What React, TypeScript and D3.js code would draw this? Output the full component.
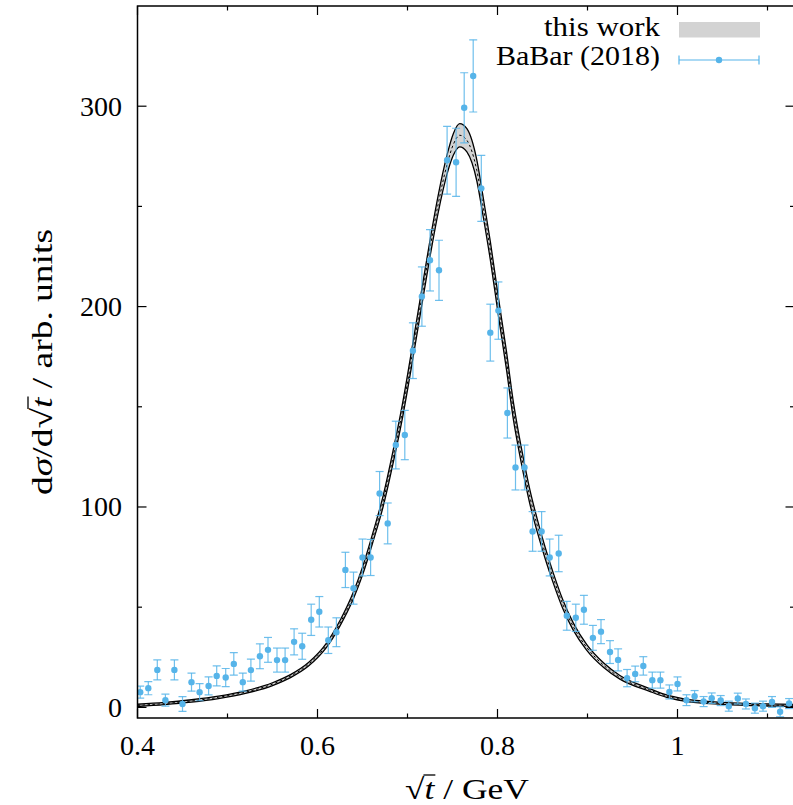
import React, { useEffect, useRef } from "react";
import * as d3 from "d3";

const W = 793;
const H = 805;

// BaBar (2018) data: sqrt(t) in GeV, cross section, error
const babarX = [
  0.403, 0.412, 0.422, 0.431, 0.441, 0.450, 0.460, 0.469, 0.479, 0.488,
  0.498, 0.507, 0.517, 0.526, 0.536, 0.545, 0.555, 0.564, 0.574, 0.583,
  0.593, 0.602, 0.612, 0.621, 0.631, 0.640, 0.650, 0.659, 0.669, 0.678,
  0.687, 0.697, 0.706, 0.716, 0.725, 0.735, 0.744, 0.754, 0.763, 0.773,
  0.782, 0.792, 0.801, 0.811, 0.820, 0.830, 0.839, 0.849, 0.858, 0.868,
  0.877, 0.887, 0.896, 0.906, 0.915, 0.925, 0.934, 0.944, 0.953, 0.962,
  0.972, 0.981, 0.991, 1.000, 1.010, 1.019, 1.029, 1.038, 1.048, 1.057,
  1.067, 1.076, 1.086, 1.095, 1.105, 1.114, 1.124,
];
const babarY = [
  7.6, 9.6, 18.7, 3.6, 18.7, 1.7, 12.6, 7.6, 10.7, 15.7,
  14.9, 21.7, 12.6, 18.6, 25.5, 28.7, 23.6, 23.6, 32.7, 30.5,
  43.7, 47.7, 33.5, 37.5, 68.6, 59.5, 74.8, 74.8, 106.7, 91.8,
  130.9, 135.9, 178.0, 205.0, 223.1, 218.1, 273.0, 272.0, 299.2, 315.1,
  259.0, 187.0, 198.0, 146.9, 119.7, 119.7, 87.8, 87.8, 74.8, 76.8,
  45.7, 44.7, 48.7, 34.7, 37.8, 27.6, 23.7, 14.6, 16.7, 20.7,
  13.6, 13.6, 7.7, 11.7, 3.6, 5.6, 2.9, 4.6, 3.4, 0.6,
  4.4, 1.7, -0.4, 0.6, 2.7, -2.2, 1.9,
];
const babarErr = [
  3.0, 3.3, 5.0, 3.0, 5.0, 3.7, 4.5, 4.3, 4.5, 5.0,
  4.5, 5.6, 4.5, 5.5, 6.2, 6.2, 6.0, 6.0, 6.5, 6.5,
  7.8, 7.6, 6.6, 7.2, 8.8, 8.0, 9.2, 9.0, 11.0, 10.2,
  11.9, 12.3, 13.9, 14.8, 15.3, 15.0, 16.9, 17.0, 17.5, 18.0,
  16.5, 14.2, 14.3, 12.5, 11.2, 11.2, 9.9, 9.9, 9.2, 9.1,
  7.2, 6.8, 7.2, 6.2, 6.0, 5.7, 5.5, 4.3, 3.9, 4.6,
  4.0, 4.0, 3.5, 3.5, 2.7, 2.8, 2.5, 2.6, 2.5, 2.5,
  2.7, 2.5, 2.5, 2.5, 2.7, 2.5, 2.5,
];

// "this work" band: central value and half width
const curveX = [
  0.400, 0.430, 0.460, 0.490, 0.520, 0.550, 0.570, 0.590, 0.610, 0.625,
  0.640, 0.650, 0.662, 0.673, 0.684, 0.694, 0.706, 0.716, 0.725, 0.734,
  0.744, 0.751, 0.758, 0.766, 0.777, 0.784, 0.792, 0.801, 0.810, 0.818,
  0.823, 0.829, 0.836, 0.844, 0.853, 0.862, 0.873, 0.884, 0.899, 0.918,
  0.936, 0.969, 0.988, 1.006, 1.050, 1.100, 1.130,
];
const curveMid = [
  1.0, 1.9, 3.2, 5.0, 7.6, 11.6, 15.6, 21.5, 31, 42,
  56, 68, 85.5, 103, 125, 147, 178, 205, 229, 251,
  271, 281, 285.5, 283, 268, 250, 228, 200, 173, 147,
  134, 120, 105, 91, 77, 64.5, 51, 40.5, 30, 21,
  15, 8.7, 5.6, 3.8, 2.0, 1.2, 1.0,
];
const curveHalf = [
  0.55, 0.55, 0.6, 0.6, 0.65, 0.7, 0.75, 0.9, 1.1, 1.35,
  1.7, 2.0, 2.3, 2.7, 3.1, 3.5, 3.9, 4.0, 4.1, 4.3,
  4.8, 5.4, 5.8, 5.8, 5.2, 4.8, 4.6, 4.5, 4.5, 4.3,
  4.0, 3.8, 3.5, 3.2, 2.8, 2.5, 2.2, 1.8, 1.4, 1.1,
  0.9, 0.7, 0.6, 0.55, 0.5, 0.5, 0.5,
];

const xTicksMajor = [0.4, 0.6, 0.8, 1.0];
const xTickLabels = ["0.4", "0.6", "0.8", "1"];
const xTicksMinor = [0.5, 0.7, 0.9, 1.1];
const yTicksMajor = [0, 100, 200, 300];
const yTickLabels = ["0", "100", "200", "300"];
const yTicksMinor = [50, 150, 250];
const legendLabels = ["this work", "BaBar (2018)"];

const FONT = "'Liberation Serif', 'Times New Roman', serif";
const BLUE = "#56b4e9";

export default function App() {
  const ref = useRef<SVGSVGElement>(null);

  useEffect(() => {
    const svg = d3.select(ref.current);
    svg.selectAll("*").remove();

    const left = 137.5, right = 794.5, top = 6, bottom = 718;
    const x = d3.scaleLinear().domain([0.4, 1.13]).range([left, right]);
    const y = d3.scaleLinear().domain([-5.3, 350]).range([bottom, top]);

    svg.append("defs").append("clipPath").attr("id", "plotclip")
      .append("rect").attr("x", left).attr("y", top)
      .attr("width", right - left).attr("height", bottom - top);

    const plot = svg.append("g").attr("clip-path", "url(#plotclip)");

    const band = curveX.map((v, i) => ({ x: v, m: curveMid[i], h: curveHalf[i] }));
    const cv = d3.curveMonotoneX;
    plot.append("path").datum(band)
      .attr("d", d3.area<any>().x(d => x(d.x)).y0(d => y(d.m - d.h)).y1(d => y(d.m + d.h)).curve(cv))
      .attr("fill", "#d3d3d3");
    const line = (f: (d: any) => number) => d3.line<any>().x(d => x(d.x)).y(d => y(f(d))).curve(cv);
    plot.append("path").datum(band).attr("d", line(d => d.m + d.h))
      .attr("fill", "none").attr("stroke", "#000").attr("stroke-width", 1.3);
    plot.append("path").datum(band).attr("d", line(d => d.m - d.h))
      .attr("fill", "none").attr("stroke", "#000").attr("stroke-width", 1.3);
    plot.append("path").datum(band).attr("d", line(d => d.m))
      .attr("fill", "none").attr("stroke", "#000").attr("stroke-width", 1)
      .attr("stroke-dasharray", "2.5,2.5");

    const pts = babarX.map((v, i) => ({ x: v, y: babarY[i], e: babarErr[i] }));
    const cap = 4;
    const eb = plot.append("g").attr("stroke", BLUE).attr("stroke-width", 1.2).attr("stroke-opacity", 0.85);
    pts.forEach(p => {
      const px = x(p.x), y1 = y(p.y - p.e), y2 = y(p.y + p.e);
      eb.append("line").attr("x1", px).attr("x2", px).attr("y1", y1).attr("y2", y2);
      eb.append("line").attr("x1", px - cap).attr("x2", px + cap).attr("y1", y1).attr("y2", y1);
      eb.append("line").attr("x1", px - cap).attr("x2", px + cap).attr("y1", y2).attr("y2", y2);
    });
    plot.append("g").selectAll("circle").data(pts).join("circle")
      .attr("cx", d => x(d.x)).attr("cy", d => y(d.y)).attr("r", 3.2).attr("fill", BLUE);

    // frame and ticks
    const ax = svg.append("g").attr("stroke", "#000");
    ax.append("rect").attr("x", left).attr("y", top).attr("width", right - left).attr("height", bottom - top)
      .attr("fill", "none").attr("stroke-width", 1.5);
    const tk = ax.append("g").attr("stroke-width", 1.2);
    const xt = (v: number, len: number) => {
      tk.append("line").attr("x1", x(v)).attr("x2", x(v)).attr("y1", bottom).attr("y2", bottom - len);
      tk.append("line").attr("x1", x(v)).attr("x2", x(v)).attr("y1", top).attr("y2", top + len);
    };
    const yt = (v: number, len: number) => {
      tk.append("line").attr("y1", y(v)).attr("y2", y(v)).attr("x1", left).attr("x2", left + len);
      tk.append("line").attr("y1", y(v)).attr("y2", y(v)).attr("x1", right).attr("x2", right - len);
    };
    xTicksMajor.forEach(v => xt(v, 9));
    xTicksMinor.forEach(v => xt(v, 4.5));
    yTicksMajor.forEach(v => yt(v, 9));
    yTicksMinor.forEach(v => yt(v, 4.5));

    const txt = svg.append("g").attr("font-family", FONT).attr("font-size", 28).attr("fill", "#000");
    xTicksMajor.forEach((v, i) => {
      txt.append("text").attr("x", x(v)).attr("y", 755).attr("text-anchor", "middle").text(xTickLabels[i]);
    });
    yTicksMajor.forEach((v, i) => {
      txt.append("text").attr("x", 122).attr("y", y(v) + 9.5).attr("text-anchor", "end").text(yTickLabels[i]);
    });

    // x label
    const xl = txt.append("text").attr("x", 467).attr("y", 799).attr("text-anchor", "middle")
      .attr("font-size", 29).attr("textLength", 124).attr("lengthAdjust", "spacingAndGlyphs");
    xl.append("tspan").text("√");
    xl.append("tspan").attr("font-style", "italic").text("t");
    xl.append("tspan").text(" / GeV");

    // y label
    const yg = txt.append("g").attr("transform", "translate(52,362) rotate(-90)");
    const yl = yg.append("text").attr("x", 0).attr("y", 0).attr("text-anchor", "middle")
      .attr("font-size", 29).attr("textLength", 266).attr("lengthAdjust", "spacingAndGlyphs");
    yl.append("tspan").text("d");
    yl.append("tspan").attr("font-style", "italic").text("σ");
    yl.append("tspan").text("/d√");
    yl.append("tspan").attr("font-style", "italic").text("t");
    yl.append("tspan").text(" / arb. units");

    const overline = (parent: any, textEl: SVGTextElement, iRoot: number, iT: number, baseY: number) => {
      try {
        const r = textEl.getExtentOfChar(iRoot);
        const t = textEl.getExtentOfChar(iT);
        parent.append("line")
          .attr("x1", r.x + r.width - 1).attr("x2", t.x + t.width + 1)
          .attr("y1", baseY - 24).attr("y2", baseY - 24)
          .attr("stroke", "#000").attr("stroke-width", 1.3);
      } catch (e) { /* ignore */ }
    };
    overline(txt, xl.node() as SVGTextElement, 0, 1, 799);
    overline(yg, yl.node() as SVGTextElement, 4, 5, 0);

    // legend
    txt.append("text").attr("x", 660).attr("y", 36).attr("text-anchor", "end")
      .attr("textLength", 116).attr("lengthAdjust", "spacingAndGlyphs").text(legendLabels[0]);
    txt.append("text").attr("x", 660).attr("y", 65).attr("text-anchor", "end")
      .attr("textLength", 164).attr("lengthAdjust", "spacingAndGlyphs").text(legendLabels[1]);
    svg.append("rect").attr("x", 679).attr("y", 22).attr("width", 81).attr("height", 15.5).attr("fill", "#d3d3d3");
    const lg = svg.append("g").attr("stroke", BLUE).attr("stroke-width", 1.2);
    lg.append("line").attr("x1", 679).attr("x2", 759).attr("y1", 60).attr("y2", 60);
    lg.append("line").attr("x1", 679).attr("x2", 679).attr("y1", 55.5).attr("y2", 64.5);
    lg.append("line").attr("x1", 759).attr("x2", 759).attr("y1", 55.5).attr("y2", 64.5);
    svg.append("circle").attr("cx", 719).attr("cy", 60).attr("r", 3.2).attr("fill", BLUE);
  }, []);

  return (
    <svg ref={ref} width={W} height={H}
      style={{ position: "absolute", left: 0, top: 0, background: "#fff" }} />
  );
}
